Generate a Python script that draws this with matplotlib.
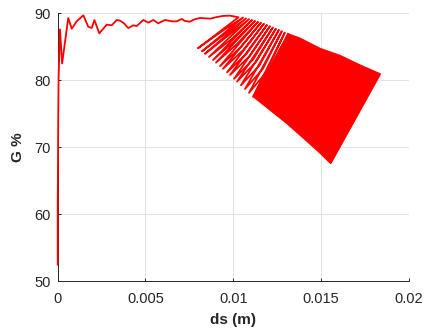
import matplotlib.pyplot as plt

# early part of the curve (ds in m, G in %)
ds_start = [0.0, 0.0, 0.00003, 0.00005, 0.00013, 0.00025, 0.0006, 0.0008, 0.00108,
            0.00146, 0.00174, 0.00194, 0.00209, 0.00237, 0.00279, 0.00308, 0.00336,
            0.00355, 0.00378, 0.00402, 0.00431, 0.0045, 0.00488, 0.00516, 0.00545,
            0.00573, 0.00611, 0.0065, 0.00678, 0.00707, 0.00725, 0.00754, 0.0078,
            0.0081, 0.0087, 0.009, 0.0094, 0.0098, 0.0103]
g_start = [52.5, 61.0, 74.5, 80.5, 87.6, 82.5, 89.3, 87.7, 88.8,
           89.7, 88.0, 87.8, 89.0, 87.0, 88.3, 88.2, 89.0,
           88.9, 88.5, 87.8, 88.2, 88.1, 89.0, 88.6, 89.0,
           88.5, 89.0, 88.8, 88.8, 89.15, 88.85, 88.75, 89.1,
           89.3, 89.2, 89.4, 89.6, 89.65, 89.4]

# zig-zag part: low ends, bends and high ends of each stroke
ds_low = [0.00799, 0.00822, 0.00839, 0.00862, 0.00885, 0.00902, 0.00925, 0.00942,
          0.00965, 0.00982, 0.01005, 0.01022, 0.01044, 0.01067, 0.0109, 0.01113]
g_low = [84.78, 84.32, 83.96, 83.49, 83.03, 82.64, 82.12, 81.72,
         81.19, 80.79, 80.22, 79.81, 79.25, 78.69, 78.12, 77.55]
ds_mid = [0.00935, 0.00953, 0.00968, 0.00988, 0.01006, 0.01021, 0.01041, 0.01057,
          0.01077, 0.01093, 0.01113, 0.01129, 0.01149, 0.01169, 0.01188, 0.01208]
g_mid = [87.3, 86.9, 86.6, 86.1, 85.8, 85.4, 84.9, 84.5,
         84.0, 83.6, 83.1, 82.7, 82.2, 81.7, 81.2, 80.7]
ds_high = [0.01056, 0.01073, 0.0109, 0.01107, 0.01124, 0.01141, 0.01158, 0.01175,
           0.01192, 0.01209, 0.01226, 0.01243, 0.0126, 0.01277, 0.01294, 0.01312]
g_high = [89.37, 89.24, 89.12, 88.99, 88.87, 88.73, 88.60, 88.45,
          88.25, 88.07, 87.88, 87.70, 87.51, 87.33, 87.13, 86.94]

# outline of the dense (solid) part of the oscillation
ds_band = [0.01115, 0.01210, 0.01305, 0.01419, 0.01495, 0.01556, 0.01839,
           0.01722, 0.01609, 0.01495, 0.01381, 0.01312]
g_band = [77.55, 75.57, 73.58, 70.94, 69.15, 67.58, 80.94,
          82.28, 83.70, 84.75, 86.27, 86.94]

ds = list(ds_start)
g = list(g_start)
for i in range(len(ds_low)):
    ds += [ds_low[i], ds_mid[i], ds_high[i]]
    g += [g_low[i], g_mid[i], g_high[i]]

fig = plt.figure(figsize=(4.25, 3.29), dpi=100)
ax = fig.add_axes([0.1358, 0.145, 0.8258, 0.8146])

ax.plot(ds, g, color='red', lw=1.3, zorder=3, clip_on=False)
ax.fill(ds_band, g_band, color='red', lw=1.0, zorder=3)

ax.set_xlim(0, 0.02)
ax.set_ylim(50, 90)
ax.set_xticks([0, 0.005, 0.01, 0.015, 0.02])
ax.set_xticklabels(['0', '0.005', '0.01', '0.015', '0.02'])
ax.set_yticks([50, 60, 70, 80, 90])

ax.grid(True, color='#e3e3e3', lw=0.7)
ax.set_axisbelow(True)
for s in ['top', 'right']:
    ax.spines[s].set_visible(False)
for s in ['left', 'bottom']:
    ax.spines[s].set_color('#262626')
    ax.spines[s].set_linewidth(0.7)
    ax.spines[s].set_zorder(2)
ax.tick_params(direction='in', length=2.5, width=0.7, colors='#262626',
               labelsize=10.5)
ax.tick_params(axis='x', pad=8)
ax.tick_params(axis='y', pad=5)
for lab in ax.get_xticklabels() + ax.get_yticklabels():
    lab.set_family('Liberation Sans')

ax.set_xlabel('ds (m)', fontsize=11, fontweight='bold', family='Liberation Sans',
              color='#262626', labelpad=5)
ax.set_ylabel('G %', fontsize=11, fontweight='bold', family='Liberation Sans',
              color='#262626', labelpad=7)

fig.savefig('out.png', dpi=100)
